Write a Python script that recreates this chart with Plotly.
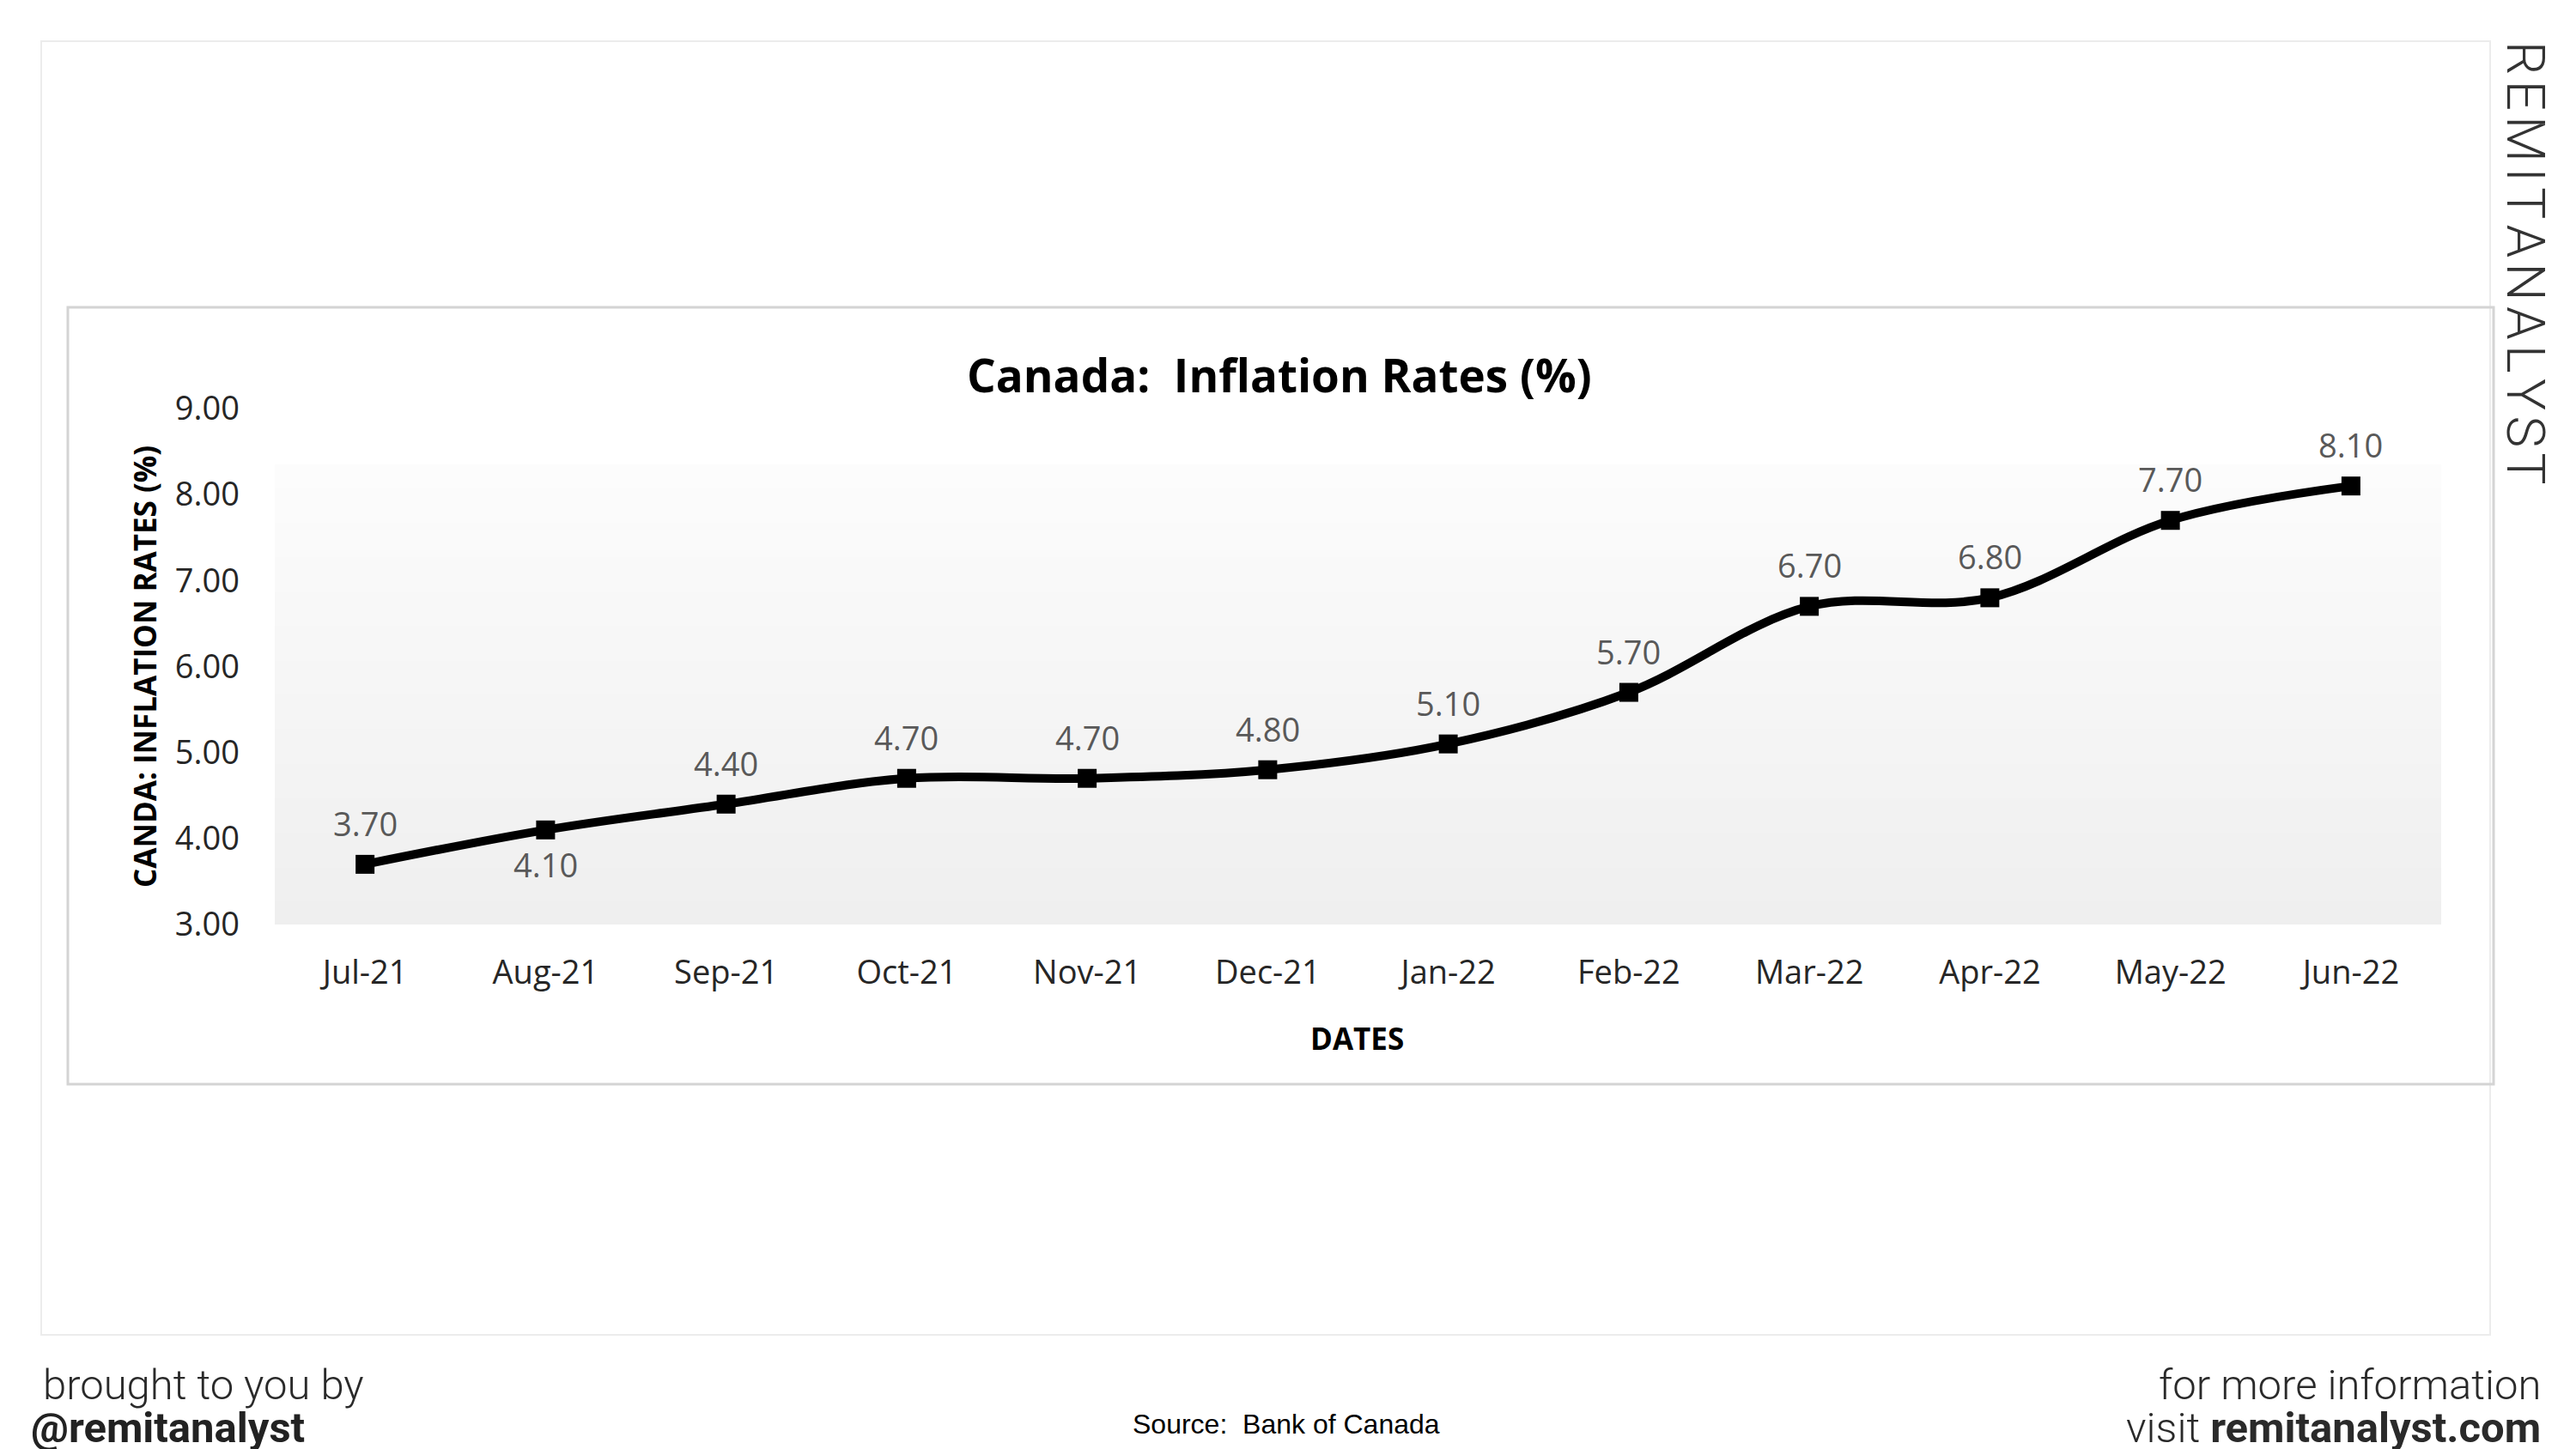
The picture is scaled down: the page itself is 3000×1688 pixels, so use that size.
import plotly.graph_objects as go

# ---- data ----
dates = ["Jul-21", "Aug-21", "Sep-21", "Oct-21", "Nov-21", "Dec-21",
         "Jan-22", "Feb-22", "Mar-22", "Apr-22", "May-22", "Jun-22"]
rates = [3.70, 4.10, 4.40, 4.70, 4.70, 4.80, 5.10, 5.70, 6.70, 6.80, 7.70, 8.10]
label_below = [False, True, False, False, False, False, False, False, False, False, False, False]

title_text = "Canada:  Inflation Rates (%)"
y_title = "CANDA: INFLATION RATES (%)"
x_title = "DATES"

W, H = 3000, 1688
L, R, T, B = 320, 157, 476, 611
PW = W - L - R
PH = H - T - B


def px(x):
    return (x - L) / PW


def py(y):
    return (H - B - y) / PH


def note(x, y, text, font, xanchor="center", yanchor="middle", **kw):
    return dict(x=px(x), y=py(y), xref="paper", yref="paper", text=text,
                showarrow=False, xanchor=xanchor, yanchor=yanchor, font=font, **kw)


fig = go.Figure()
fig.add_trace(go.Scatter(
    x=dates, y=rates, mode="lines+markers",
    line=dict(color="black", width=10, shape="spline", smoothing=1.0),
    marker=dict(symbol="square", size=22, color="black"),
    hoverinfo="x+y", showlegend=False,
))

annotations = []
for d, v, below in zip(dates, rates, label_below):
    annotations.append(dict(
        x=d, y=v, xref="x", yref="y", text=f"{v:.2f}", showarrow=False,
        xanchor="center", yanchor="middle",
        yshift=-40 if below else 48,
        font=dict(family="Open Sans", size=38, color="#595959"),
    ))

# title and axis titles
annotations.append(note(1490, 436, f"<b>{title_text}</b>",
                        dict(family="Open Sans", size=53, color="#000000")))
annotations.append(note(168, 777, f"<b>{y_title}</b>",
                        dict(family="Open Sans", size=35, color="#000000"), textangle=-90))
annotations.append(note(1580, 1209, f"<b>{x_title}</b>",
                        dict(family="Open Sans", size=35, color="#000000")))

# footer / branding
hs = "\u200a"
watermark = hs.join("REMITANALYST")
annotations += [
    note(48, 1613, "brought to you by",
         dict(family="Roboto", size=49, color="#2a2a2a", weight=300), xanchor="left"),
    note(34, 1663, "<b>@remitanalyst</b>",
         dict(family="Roboto", size=49, color="#222222"), xanchor="left"),
    note(2961, 1613, "for more information",
         dict(family="Roboto", size=49, color="#2a2a2a", weight=300), xanchor="right"),
    note(2961, 1663, "visit <b>remitanalyst.com</b>",
         dict(family="Roboto", size=49, color="#2a2a2a", weight=300), xanchor="right"),
    note(1498, 1659, "Source:  Bank of Canada",
         dict(family="Liberation Sans", size=32, color="#000000")),
    note(2942, 306, watermark,
         dict(family="Roboto", size=62, color="#333333", weight=300), textangle=90),
]

shapes = []
# gradient plot background
n = 40
top = 0.89
c0, c1 = 0xEF, 0xFC
for i in range(n):
    f = i / (n - 1)
    c = int(round(c0 + (c1 - c0) * f))
    col = f"rgb({c},{c},{c})"
    shapes.append(dict(type="rect", xref="x domain", yref="y domain",
                       x0=0, x1=1, y0=top * i / n, y1=top * (i + 1) / n + 0.002,
                       fillcolor=col, line=dict(width=0), layer="below"))
# outer faint border
shapes.append(dict(type="rect", xref="paper", yref="paper",
                   x0=px(48), x1=px(2900), y0=py(1555), y1=py(48),
                   line=dict(color="#ececec", width=2), fillcolor="rgba(0,0,0,0)", layer="below"))
# inner chart frame
shapes.append(dict(type="rect", xref="paper", yref="paper",
                   x0=px(79), x1=px(2904), y0=py(1263), y1=py(358),
                   line=dict(color="#d4d4d4", width=3), fillcolor="rgba(0,0,0,0)", layer="below"))

fig.update_layout(
    width=W, height=H,
    margin=dict(l=L, r=R, t=T, b=B, autoexpand=False),
    paper_bgcolor="white", plot_bgcolor="white",
    annotations=annotations, shapes=shapes,
    xaxis=dict(type="category", range=[-0.5, len(dates) - 0.5], showgrid=False,
               showline=False, zeroline=False, ticks="", ticklabelstandoff=30,
               tickfont=dict(family="Open Sans", size=38, color="#262626")),
    yaxis=dict(range=[3, 9], dtick=1, tickformat=".2f", showgrid=False,
               showline=False, zeroline=False, ticks="", ticklabelstandoff=40,
               tickfont=dict(family="Open Sans", size=38, color="#262626")),
)

fig.write_html("out.html")
